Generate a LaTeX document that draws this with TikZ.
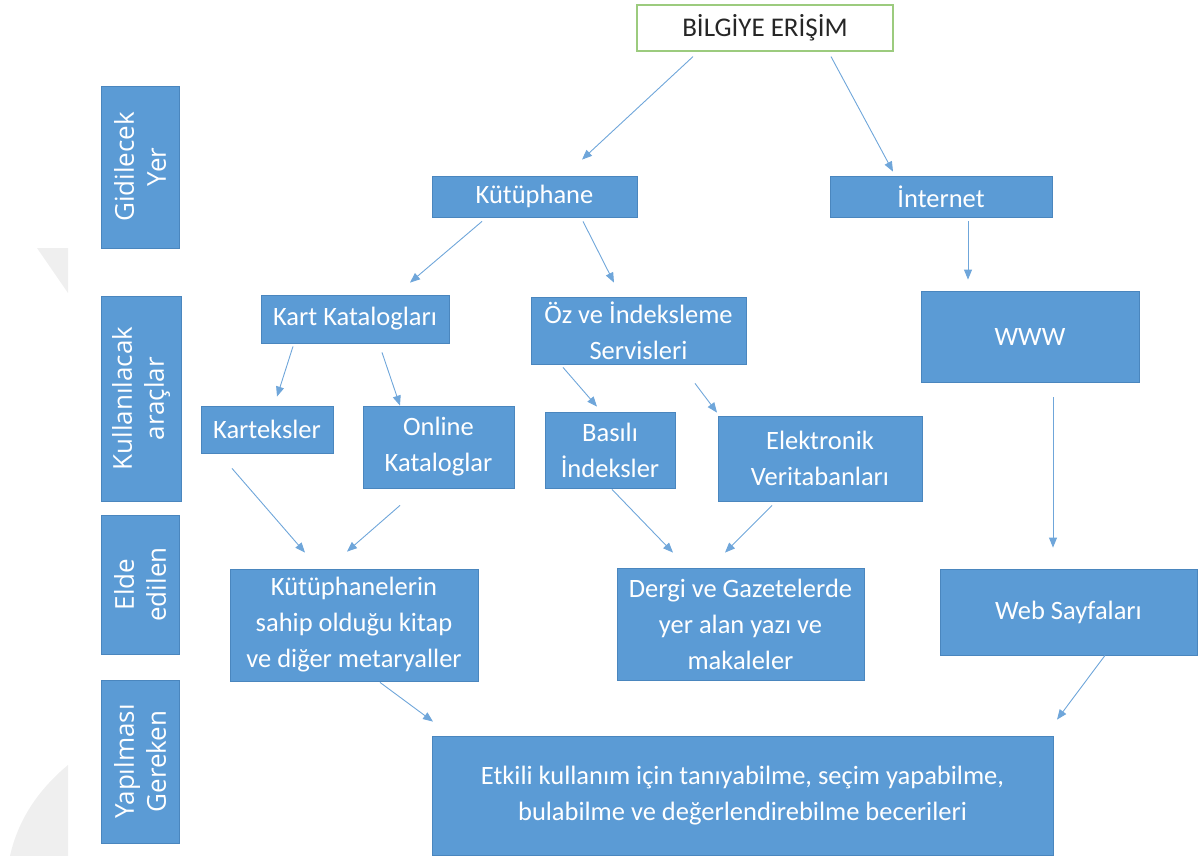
\documentclass[tikz,border=0pt]{standalone}
\usepackage{fontspec}
\setmainfont{Carlito}
\newfontfamily\sidefont{Open Sans}
\usetikzlibrary{arrows.meta}
\definecolor{boxblue}{HTML}{5B9BD5}
\definecolor{boxline}{HTML}{4A86BE}
\definecolor{arrowblue}{HTML}{6FA6DA}
\definecolor{topgreen}{HTML}{9CCB7E}
\definecolor{bggrey}{HTML}{EFEFEF}
\tikzset{
  box/.style={draw=boxline, fill=boxblue, text=white, line width=0.8pt,
    inner sep=0pt, align=center, font=\fontsize{26.5}{36}\selectfont},
  sidebox/.style={box, rotate=90, font=\sidefont\fontsize{26}{32}\selectfont},
  conn/.style={draw=arrowblue, line width=0.9pt,
    -{Triangle[length=10pt,width=8pt]}},
}

\begin{document}
\begin{tikzpicture}[x=1pt,y=-1pt]
		%%%%% START %%%%%
		\useasboundingbox (0,0) rectangle (1199,856);
		
		% grey page marks
		\fill[bggrey] (37,248) -- (68,248) -- (68,293) -- cycle;
		\fill[bggrey] (68,765) .. controls (38,790) and (18,820) .. (10,856) -- (68,856) -- cycle;
		
		\node[draw=topgreen, line width=1.2pt, fill=white, minimum width=256, minimum height=46,
		  font=\fontsize{27}{30}\selectfont, text=black!85] (bilgi) at (765,28) {BİLGİYE ERİŞİM};
		
		\node[sidebox, minimum width=162, minimum height=78] (gidilecek) at (140,167) {Gidilecek\\Yer};
		\node[sidebox, minimum width=205, minimum height=80] (kullan) at (141,398.5) {Kullanılacak\\araçlar};
		\node[sidebox, minimum width=139, minimum height=78] (elde) at (140,584.5) {Elde\\edilen};
		\node[sidebox, minimum width=163, minimum height=78] (yapil) at (140,761.5) {Yapılması\\Gereken};
		
		\node[box, minimum width=205, minimum height=41] (kutup) at (534.5,196.5) {Kütüphane};
		\node[box, minimum width=222, minimum height=41] (internet) at (941,196.5) {İnternet};
		
		\node[box, minimum width=188, minimum height=48] (kart) at (355,319) {Kart Katalogları};
		\node[box, minimum width=215, minimum height=67] (oz) at (638.5,330.5) {Öz ve İndeksleme\\Servisleri};
		\node[box, minimum width=218, minimum height=91] (www) at (1030,336.5) {WWW};
		
		\node[box, minimum width=132, minimum height=47] (karteks) at (267,429.5) {Karteksler};
		\node[box, minimum width=151, minimum height=82] (online) at (438.5,447) {Online\\Kataloglar};
		\node[box, minimum width=130, minimum height=76] (basili) at (610,450) {Basılı\\İndeksler};
		\node[box, minimum width=204, minimum height=85] (elektr) at (820,458.5) {Elektronik\\Veritabanları};
		
		\node[box, minimum width=248, minimum height=112] (kutuph) at (354,625) {Kütüphanelerin\\sahip olduğu kitap\\ve diğer metaryaller};
		\node[box, minimum width=247, minimum height=112] (dergi) at (740.5,624) {Dergi ve Gazetelerde\\yer alan yazı ve\\makaleler};
		\node[box, minimum width=257, minimum height=86] (web) at (1068.5,612) {Web Sayfaları};
		
		\node[box, minimum width=621, minimum height=119] (etkili) at (742.5,795.5) {Etkili kullanım için tanıyabilme, seçim yapabilme,\\bulabilme ve değerlendirebilme becerileri};
		
		% arrows
		\draw[conn] ([shift={(-72,5)}]bilgi.south) -- ([shift={(47.5,-16)}]kutup.north);
		\draw[conn] ([shift={(66,5)}]bilgi.south) -- ([shift={(-48,-4)}]internet.north);
		\draw[conn] ([shift={(-52.5,4)}]kutup.south) -- ([shift={(55,-12)}]kart.north);
		\draw[conn] ([shift={(48.5,4)}]kutup.south) -- ([shift={(-24.5,-14)}]oz.north);
		\draw[conn] ([shift={(27,4)}]internet.south) -- ([shift={(-62,-11)}]www.north);
		\draw[conn] ([shift={(-62,3)}]kart.south) -- ([shift={(10,-9)}]karteks.north);
		\draw[conn] ([shift={(27,9)}]kart.south) -- ([shift={(-38.5,0)}]online.north);
		\draw[conn] ([shift={(-75.5,3)}]oz.south) -- ([shift={(-13,-5)}]basili.north);
		\draw[conn] ([shift={(56.5,19)}]oz.south) -- ([shift={(-103,-3)}]elektr.north);
		\draw[conn] ([shift={(-35,15)}]karteks.south) -- ([shift={(-49,-16)}]kutuph.north);
		\draw[conn] ([shift={(-38.5,17)}]online.south) -- ([shift={(-7,-17)}]kutuph.north);
		\draw[conn] ([shift={(2,1)}]basili.south) -- ([shift={(-67.5,-15)}]dergi.north);
		\draw[conn] ([shift={(-48,4)}]elektr.south) -- ([shift={(-15.5,-15)}]dergi.north);
		\draw[conn] ([shift={(23,15)}]www.south) -- ([shift={(-15.5,-21)}]web.north);
		\draw[conn] ([shift={(36.5,0)}]web.south) -- ([shift={(314.5,-16)}]etkili.north);
		\draw[conn] ([shift={(26,1)}]kutuph.south) -- ([shift={(-309.5,-14)}]etkili.north);
		%%%%% END %%%%%
	\end{tikzpicture}
\end{document}
